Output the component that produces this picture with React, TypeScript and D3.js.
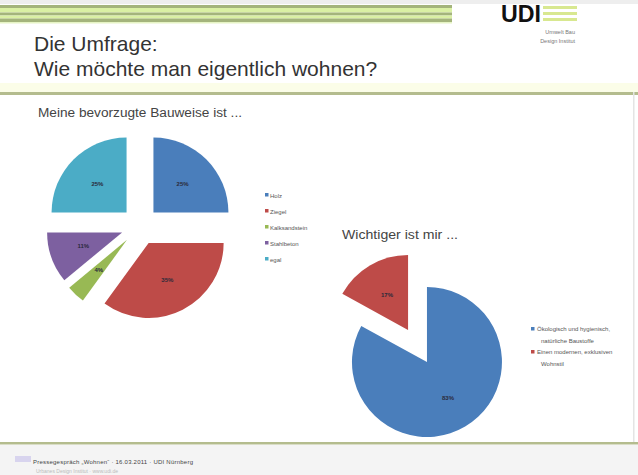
import React, { useEffect } from "react";
import * as d3 from "d3";

// ---- data ----
const bauweiseLabels = ["Holz", "Ziegel", "Kalksandstein", "Stahlbeton", "egal"];
const bauweiseValues = [25, 35, 4, 11, 25];
const bauweiseColors = ["#4a7ebb", "#be4b48", "#98b954", "#7d60a0", "#4bacc6"];

const wichtigLabels = [
  ["Ökologisch und hygienisch,", "natürliche Baustoffe"],
  ["Einen modernen, exklusiven", "Wohnstil"],
];
const wichtigValues = [83, 17];
const wichtigColors = ["#4a7ebb", "#be4b48"];

const W = 638;
const H = 475;

function ExplodedPie({ values, colors, cx, cy, r, explode, labelColor }: any) {
  const pie = d3.pie<number>().sort(null).startAngle(0).endAngle(2 * Math.PI);
  const arcs = pie(values);
  const arc = d3.arc<any>().innerRadius(0).outerRadius(r);
  const labelArc = d3.arc<any>().innerRadius(r * 0.55).outerRadius(r * 0.55);
  const total = d3.sum(values);
  return (
    <g>
      {arcs.map((a, i) => {
        const mid = (a.startAngle + a.endAngle) / 2;
        const dx = explode * Math.sin(mid);
        const dy = -explode * Math.cos(mid);
        const [lx, ly] = labelArc.centroid(a);
        const lab = Math.round((a.value / total) * 100) + "%";
        return (
          <g key={i} transform={`translate(${cx + dx},${cy + dy})`}>
            <path d={arc(a) || ""} fill={colors[i]} />
            <text
              x={lx}
              y={ly}
              dy="0.35em"
              textAnchor="middle"
              fontSize={6}
              fontWeight="bold"
              fill={labelColor}
              fontFamily="Liberation Sans, Arial, sans-serif"
            >
              {lab}
            </text>
          </g>
        );
      })}
    </g>
  );
}

export default function App() {
  useEffect(() => {
    document.body.style.margin = "0";
  }, []);
  const font = "Liberation Sans, Arial, sans-serif";
  const stripeX = d3.scaleLinear().domain([0, 1]).range([0, 452]);

  return (
    <svg width={W} height={H} style={{ display: "block", position: "absolute", left: 0, top: 0 }}>
      <rect x={0} y={0} width={W} height={H} fill="#ffffff" />
      <rect x={0} y={0} width={W} height={4} fill="#eeeeee" />
      {/* header stripes */}
      <rect x={0} y={5} width={stripeX(1)} height={3} fill="#a4b47c" />
      <rect x={0} y={8} width={stripeX(1)} height={4.5} fill="#daf0a4" />
      <rect x={0} y={12.5} width={stripeX(1)} height={3} fill="#a4b47c" />
      <rect x={0} y={15.5} width={stripeX(1)} height={3} fill="#daf0a4" />
      <rect x={0} y={18.5} width={stripeX(1)} height={3.5} fill="#a4b47c" />
      <rect x={0} y={22} width={stripeX(1)} height={1.5} fill="#e6f4c4" />

      {/* logo */}
      <text x={501} y={22} fontSize={23} fontWeight="bold" fill="#111" fontFamily={font} textLength={40} lengthAdjust="spacingAndGlyphs">
        UDI
      </text>
      <rect x={543} y={6} width={34} height={3} fill="#d8e890" />
      <rect x={543} y={12} width={34} height={3} fill="#d8e890" />
      <rect x={543} y={18} width={34} height={3} fill="#d8e890" />
      <text x={575} y={34} fontSize={5.5} fill="#777" textAnchor="end" fontFamily={font}>
        Umwelt Bau
      </text>
      <text x={575} y={43} fontSize={5.5} fill="#777" textAnchor="end" fontFamily={font}>
        Design Institut
      </text>

      {/* title */}
      <text x={34} y={51} fontSize={21} fill="#333" fontFamily={font}>
        Die Umfrage:
      </text>
      <text x={34} y={76} fontSize={21} fill="#333" fontFamily={font}>
        Wie möchte man eigentlich wohnen?
      </text>
      <rect x={0} y={83} width={W} height={9} fill="#fbfde8" />
      <rect x={0} y={92} width={W} height={3} fill="#b4bc8e" />
      <rect x={633} y={92} width={1.5} height={352} fill="#e4e4e4" />

      {/* chart 1 */}
      <text x={38} y={117} fontSize={12} fill="#444" fontFamily={font} textLength={204} lengthAdjust="spacingAndGlyphs">
        Meine bevorzugte Bauweise ist ...
      </text>
      <ExplodedPie values={bauweiseValues} colors={bauweiseColors} cx={140} cy={226} r={75} explode={19} labelColor="#2a2a3a" />
      {bauweiseLabels.map((l, i) => (
        <g key={i}>
          <rect x={265} y={193 + i * 16} width={3.5} height={3.5} fill={bauweiseColors[i]} />
          <text x={270} y={197.5 + i * 16} fontSize={6} fill="#555" fontFamily={font}>
            {l}
          </text>
        </g>
      ))}

      {/* chart 2 */}
      <text x={342} y={239} fontSize={12} fill="#444" fontFamily={font} textLength={116} lengthAdjust="spacingAndGlyphs">
        Wichtiger ist mir ...
      </text>
      <ExplodedPie values={wichtigValues} colors={wichtigColors} cx={417.5} cy={346} r={75} explode={18.6} labelColor="#2a2a3a" />
      {wichtigLabels.map((lines, i) => (
        <g key={i}>
          <rect x={531} y={327 + i * 23} width={3.5} height={3.5} fill={wichtigColors[i]} />
          {lines.map((t, j) => (
            <text key={j} x={j === 0 ? 537 : 541} y={331 + i * 23 + j * 12} fontSize={6} fill="#555" fontFamily={font}>
              {t}
            </text>
          ))}
        </g>
      ))}

      {/* footer */}
      <rect x={0} y={445} width={W} height={30} fill="#f4f4f4" />
      <rect x={0} y={442} width={W} height={2.5} fill="#b4bc8e" />
      <rect x={15} y={456} width={16} height={6} fill="#d8d4ee" />
      <text x={33} y={464} fontSize={6} fill="#444" fontFamily={font} textLength={160}>
        Pressegespräch „Wohnen“ · 16.03.2011 · UDI Nürnberg
      </text>
      <text x={36} y={473} fontSize={5} fill="#bbb" fontFamily={font}>
        Urbanes Design Institut · www.udi.de
      </text>
    </svg>
  );
}
